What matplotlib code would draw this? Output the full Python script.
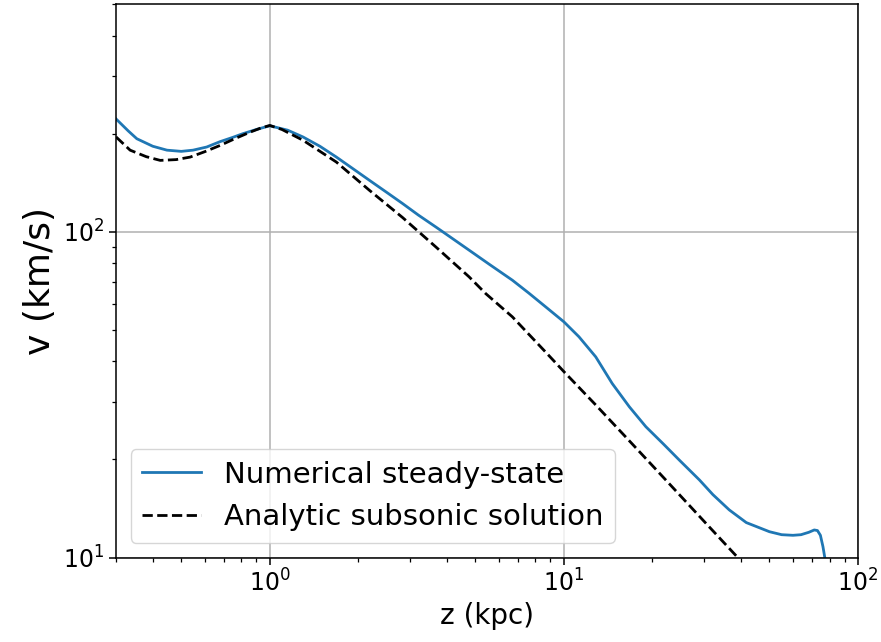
import matplotlib
matplotlib.use("Agg")
import matplotlib.pyplot as plt

# numerical steady-state solution
z_num = [0.30, 0.33, 0.353, 0.40, 0.447, 0.50, 0.548, 0.61, 0.677, 0.75, 0.81, 0.90, 1.0,
         1.15, 1.297, 1.48, 1.683, 1.92, 2.18, 2.5, 2.83, 3.2, 3.67, 4.2, 4.76, 5.57,
         6.68, 7.6, 8.67, 10.0, 11.25, 12.83, 14.6, 16.7, 19.0, 21.8, 24.7, 28.9,
         32.1, 36.5, 41.7, 50.0, 55.0, 60.1, 64.0, 68.0, 71.0, 72.8, 74.5, 76.0, 77.1, 78.5]
v_num = [222, 204, 193, 183, 178, 176.5, 178, 182, 189, 195, 200, 206, 211.5,
         205, 195.4, 183, 169.6, 156, 143.9, 132, 122, 112.5, 103.4, 95, 87.8, 79.5,
         71, 64.8, 58.8, 52.9, 47.6, 41.3, 34.2, 29.0, 25.2, 22.3, 19.9, 17.3,
         15.6, 14.0, 12.8, 12.0, 11.75, 11.7, 11.75, 11.95, 12.15, 12.1, 11.7, 10.8, 10.0, 6.0]

# analytic subsonic solution
z_ana = [0.30, 0.335, 0.38, 0.424, 0.48, 0.536, 0.60, 0.677, 0.76, 0.855, 0.93, 1.0,
         1.1, 1.297, 1.683, 2.18, 2.83, 3.67, 4.76, 5.42, 6.68, 8.67, 10.0, 12.83,
         16.7, 22.2, 30.0, 39.0, 45.0]
v_ana = [195.5, 178, 170, 165.6, 166.5, 169.5, 176, 184, 193, 202, 208, 212,
         206, 190.9, 163.7, 134.1, 110.5, 89.8, 72.7, 64.6, 54.8, 42.7, 37.2, 29.4,
         22.8, 17.3, 12.9, 10.0, 8.7]

fig = plt.figure(figsize=(8.81, 6.42), dpi=100)
ax = fig.add_axes([0.1317, 0.1316, 0.8422, 0.8621])

ax.plot(z_num, v_num, color="#1f77b4", lw=2.0, label="Numerical steady-state")
ax.plot(z_ana, v_ana, color="black", ls="--", lw=2.0, label="Analytic subsonic solution")

ax.set_xscale("log")
ax.set_yscale("log")
ax.set_xlim(0.3, 100)
ax.set_ylim(10, 500)
ax.grid(True, which="major", color="#b0b0b0", lw=1.1)
ax.set_axisbelow(True)

ax.tick_params(which="major", labelsize=17, length=5, width=1.1)
ax.tick_params(which="minor", length=3, width=0.9)
for s in ax.spines.values():
    s.set_linewidth(1.1)

ax.set_xlabel("z (kpc)", fontsize=20)
ax.set_ylabel("v (km/s)", fontsize=26)
ax.legend(loc="lower left", fontsize=21)

fig.savefig("out.png", dpi=100)
